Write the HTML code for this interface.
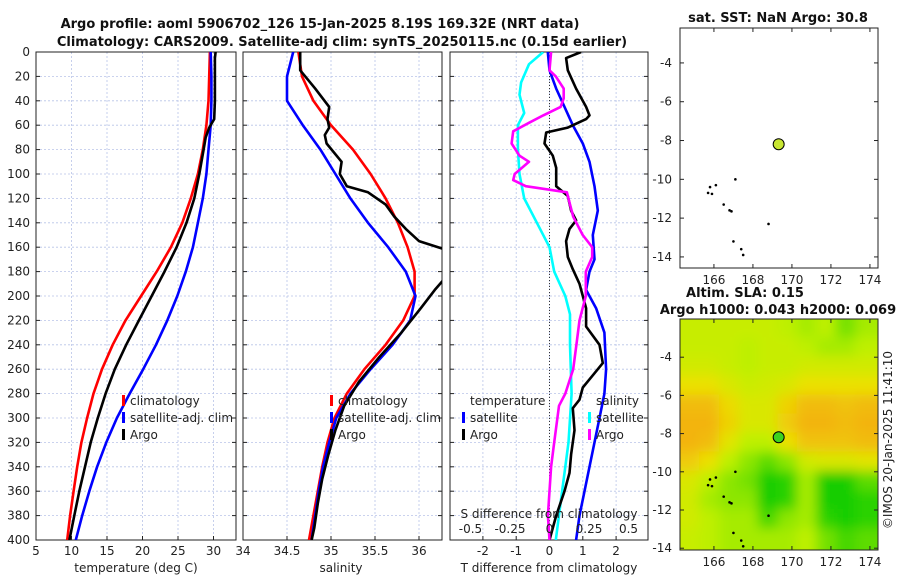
<!DOCTYPE html>
<html><head><meta charset="utf-8">
<style>
html,body{margin:0;padding:0;background:#fff;}
svg{display:block;font-family:"DejaVu Sans","Liberation Sans",sans-serif;}
.t{font-size:12px;fill:#222;}
.ti{font-size:13px;font-weight:bold;fill:#111;}
</style></head>
<body>
<svg id="chart" width="900" height="580" viewBox="0 0 900 580" xmlns="http://www.w3.org/2000/svg">
<defs>
<clipPath id="c1"><rect x="36" y="52" width="200" height="488"/></clipPath>
<clipPath id="c2"><rect x="243" y="52" width="199" height="488"/></clipPath>
<clipPath id="c3"><rect x="450" y="52" width="198" height="488"/></clipPath>
<clipPath id="cm2"><rect x="680" y="319" width="198" height="231"/></clipPath>
<filter id="bl"><feGaussianBlur stdDeviation="6"/></filter>
</defs>
<text class="ti" x="320" y="28" text-anchor="middle">Argo profile: aoml 5906702_126 15-Jan-2025 8.19S 169.32E (NRT data)</text>
<text class="ti" x="342" y="46" text-anchor="middle">Climatology: CARS2009. Satellite-adj clim: synTS_20250115.nc (0.15d earlier)</text>
<text class="ti" x="778" y="22" text-anchor="middle">sat. SST: NaN Argo: 30.8</text>
<text class="ti" x="745" y="297" text-anchor="middle">Altim. SLA: 0.15</text>
<text class="ti" x="778" y="314" text-anchor="middle">Argo h1000: 0.043 h2000: 0.069</text>
<text class="t" transform="translate(892,440) rotate(-90)" text-anchor="middle">©IMOS 20-Jan-2025 11:41:10</text>
<g id="g"></g>
</svg>
<script>
// ---- data ----
const depths = [0,20,40,60,80,100,120,140,160,180,200,220,240,260,280,300,320,340,360,380,400];
const tempClim = [29.5,29.4,29.3,29.0,28.5,27.8,26.8,25.6,24.0,22.0,19.8,17.6,15.8,14.3,13.1,12.2,11.4,10.8,10.3,9.8,9.4];
const tempSat = [29.6,29.7,29.7,29.6,29.3,29.0,28.5,27.8,27.1,26.1,24.9,23.5,21.9,20.1,18.2,16.4,14.9,13.6,12.5,11.5,10.6];
const argoDepths = [0,5,20,40,55,62,70,80,100,120,140,160,180,200,220,240,260,280,300,320,340,360,380,400];
const tempArgo = [30.3,30.2,30.2,30.2,30.1,29.4,28.9,28.6,28.0,27.3,26.2,24.8,23.1,21.3,19.5,17.7,16.1,14.8,13.7,12.7,11.9,11.1,10.4,9.7];
const salClim = [34.63,34.67,34.8,35.0,35.25,35.45,35.62,35.76,35.87,35.95,35.95,35.82,35.62,35.38,35.18,35.04,34.96,34.9,34.85,34.8,34.75];
const salSat = [34.57,34.5,34.5,34.68,34.88,35.05,35.22,35.42,35.65,35.85,35.96,35.9,35.7,35.45,35.22,35.06,34.98,34.91,34.86,34.82,34.78];
const salArgoDepths = [0,15,30,45,55,62,68,75,90,100,110,115,125,135,145,155,162,185,195,210,230,250,270,290,310,330,350,370,390,400];
const salArgo = [34.65,34.65,34.82,34.98,34.96,34.98,34.93,34.95,35.12,35.1,35.18,35.42,35.62,35.72,35.85,36.0,36.3,36.3,36.18,36.02,35.8,35.55,35.32,35.15,35.05,34.97,34.9,34.85,34.81,34.78];
const tDiffSatDepths = [0,15,30,45,60,75,90,110,130,150,170,180,195,210,230,260,280,300,320,340,360,380,400];
const tDiffSat = [-0.05,0.0,0.2,0.45,0.7,1.0,1.2,1.35,1.45,1.3,1.35,1.2,1.1,1.4,1.65,1.7,1.65,1.5,1.35,1.2,1.05,0.9,0.8];
const tDiffArgoDepths = [0,5,15,30,45,52,55,62,66,75,85,95,110,118,130,138,145,155,168,178,190,200,210,225,240,255,265,275,285,292,310,330,345,360,380,400];
const tDiffArgo = [0.95,0.5,0.55,0.8,1.1,1.2,1.1,0.55,-0.1,-0.15,0.1,0.2,0.2,0.55,0.65,0.8,0.6,0.5,0.55,0.7,0.9,1.0,1.1,1.1,1.5,1.6,1.3,1.0,0.9,0.7,0.75,0.65,0.6,0.45,0.2,0.0];
const sDiffSatDepths = [0,10,25,35,50,60,80,100,120,140,160,180,200,215,240,280,320,360,400];
const sDiffSat = [-0.04,-0.13,-0.18,-0.19,-0.16,-0.2,-0.2,-0.19,-0.16,-0.08,0.0,0.03,0.1,0.13,0.13,0.14,0.12,0.08,0.04];
const sDiffArgoDepths = [0,15,20,30,38,45,52,58,65,75,85,90,100,105,110,115,125,135,150,160,168,180,200,220,240,260,280,290,300,320,340,360,380,400];
const sDiffArgo = [0.01,0.0,0.04,0.09,0.09,0.07,-0.04,-0.13,-0.23,-0.24,-0.19,-0.13,-0.22,-0.23,-0.15,0.11,0.13,0.15,0.21,0.27,0.27,0.23,0.23,0.19,0.17,0.15,0.1,0.06,0.05,0.03,0.01,0.0,-0.01,0.0];
const depthTicks = [0,20,40,60,80,100,120,140,160,180,200,220,240,260,280,300,320,340,360,380,400];
const tempTicks = [5,10,15,20,25,30];
const salTicks = [34,34.5,35,35.5,36];
const tDiffTicks = [-2,-1,0,1,2];
const sDiffTicks = [-0.5,-0.25,0,0.25,0.5];
const sDiffLabels = ["-0.5","-0.25","0","0.25","0.5"];
const lonTicks = [166,168,170,172,174];
const latTicks = [-4,-6,-8,-10,-12,-14];
const argoPos = [169.32,-8.19];
const slaLon = [164.3,165.3,166.3,167.3,168.3,169.3,170.3,171.3,172.3,173.3,174.3];
const slaLat = [-2,-3,-4,-5,-6,-7,-8,-9,-10,-11,-12,-13,-14.2];
const slaGrid = [
[.4,.4,.4,.4,.4,.35,.3,.35,.2,.3],
[.4,.4,.4,.35,.4,.4,.35,.3,.3,.35],
[.45,.45,.4,.35,.4,.4,.45,.45,.45,.45],
[.6,.6,.5,.42,.45,.5,.6,.6,.6,.6],
[.85,.85,.65,.5,.5,.7,.85,.85,.8,.85],
[.9,.9,.7,.5,.5,.75,.9,.9,.85,.9],
[.9,.85,.55,.35,.35,.6,.8,.8,.8,.85],
[.75,.6,.35,.25,.15,.25,.45,.5,.5,.55],
[.5,.35,.25,.2,.0,.05,.3,.0,.0,.15],
[.45,.3,.25,.25,.0,.05,.3,0,0,.05],
[.45,.35,.3,.3,.1,.25,.3,.05,.0,.05],
[.4,.35,.3,.3,.3,.3,.35,.2,.1,.15]];
const coast = [[165.7,-10.7],[165.9,-10.75],[166.1,-10.3],[166.5,-11.3],[166.8,-11.6],[167.1,-10.0],[167.0,-13.2],[167.4,-13.6],[167.5,-13.9],[165.8,-10.4],[168.8,-12.3],[166.9,-11.65]];

// ---- axes ----
const Y0=52, Y1=540;
const yD = d => Y0 + d*(Y1-Y0)/400;
const xT = t => 36 + (t-5)*7.1;
const xS = s => 243 + (s-34)*88;
const xTD = v => 549.5 + v*33.3;
const xSD = v => 549.5 + v*158;
const mx1 = lo => 680 + (lo-164.26)*19.5;
const my1 = la => 28 + (-2.2-la)*19.4;
const mx2 = lo => 680 + (lo-164.26)*19.5;
const my2 = la => 319 + (-2.0-la)*19.1;

const NS="http://www.w3.org/2000/svg";
const G=document.getElementById('g');
function mk(tag, at, parent){const e=document.createElementNS(NS,tag);for(const k in at)e.setAttribute(k,at[k]);(parent||G).appendChild(e);return e;}
function txt(x,y,s,anchor,cls){const e=mk('text',{x:x,y:y,'text-anchor':anchor||'middle','class':cls||'t'});e.textContent=s;return e;}

function panel(x0,x1,name,xticks,xf,xlabels){
  for(const d of depthTicks){const l=mk('line',{x1:x0,x2:x1,y1:yD(d),y2:yD(d),stroke:'#b8c4e8','stroke-width':0.8,'stroke-dasharray':'2,2'});
    
    
    const tk=mk('line',{x1:x0,x2:x0+4,y1:yD(d),y2:yD(d),stroke:'#222'});
    
    
    const tk2=mk('line',{x1:x1,x2:x1-4,y1:yD(d),y2:yD(d),stroke:'#222'});
    
    }
  xticks.forEach((v,i)=>{const x=xf(v);
    const l=mk('line',{x1:x,x2:x,y1:Y0,y2:Y1,stroke:'#b8c4e8','stroke-width':0.8,'stroke-dasharray':'2,2'});
    
    
    const tk=mk('line',{x1:x,x2:x,y1:Y1,y2:Y1-4,stroke:'#222'});
    
    
    if(xlabels){const t=txt(x,555,xlabels[i]);
      
      }
  });
  const r=mk('rect',{x:x0,y:Y0,width:x1-x0,height:Y1-Y0,fill:'none',stroke:'#222','stroke-width':1});
  
  
}
function line(ds,vs,xf,color,clip,name,w){
  const pts=ds.map((d,i)=>xf(vs[i]).toFixed(1)+','+yD(d).toFixed(1)).join(' ');
  const p=mk('polyline',{points:pts,fill:'none',stroke:color,'stroke-width':w||2.6,'clip-path':'url(#'+clip+')','stroke-linejoin':'round'});
  
  
}

// panel 1
panel(36,236,'temp-panel',tempTicks,xT,tempTicks.map(String));
depthTicks.forEach(d=>{const t=txt(30,yD(d)+4,String(d),'end');
  
  });
{const t=txt(243,555,'34');}
line(depths,tempClim,xT,'#f00','c1','temp-climatology-line');
line(depths,tempSat,xT,'#00f','c1','temp-satellite-line');
line(argoDepths,tempArgo,xT,'#000','c1','temp-argo-line');
{const t=txt(136,572,'temperature (deg C)');}

// panel 2
panel(243,442,'sal-panel',salTicks,xS,null);
[34.5,35,35.5,36].forEach(v=>{const t=txt(xS(v),555,String(v));
  
  });
line(depths,salClim,xS,'#f00','c2','sal-climatology-line');
line(depths,salSat,xS,'#00f','c2','sal-satellite-line');
line(salArgoDepths,salArgo,xS,'#000','c2','sal-argo-line');
{const t=txt(341,572,'salinity');}

// panel 3
panel(450,648,'diff-panel',tDiffTicks,xTD,null);
tDiffTicks.forEach(v=>{const t=txt(xTD(v),555,String(v));
  
  });
{const z=mk('line',{x1:549.5,x2:549.5,y1:Y0,y2:Y1,stroke:'#333','stroke-width':1,'stroke-dasharray':'1,2'});}
line(sDiffSatDepths,sDiffSat,xSD,'#0ff','c3','sdiff-satellite-line');
line(tDiffSatDepths,tDiffSat,xTD,'#00f','c3','tdiff-satellite-line');
line(tDiffArgoDepths,tDiffArgo,xTD,'#000','c3','tdiff-argo-line');
line(sDiffArgoDepths,sDiffArgo,xSD,'#f0f','c3','sdiff-argo-line');
{const t=txt(549,518,'S difference from climatology');}
sDiffTicks.forEach((v,i)=>{const t=txt(xSD(v),533,sDiffLabels[i]);
  
  });
{const t=txt(549,572,'T difference from climatology');}

// legends
function legend(x,y,color,label,name){
  const b=mk('rect',{x:x,y:y-10,width:3,height:11,fill:color});
  
  
  const t=txt(x+8,y,label,'start');
  
  
}
legend(122,405,'#f00','climatology','legend-temp-climatology');
legend(122,422,'#00f','satellite-adj. clim','legend-temp-satellite');
legend(122,439,'#000','Argo','legend-temp-argo');
legend(330,405,'#f00','climatology','legend-sal-climatology');
legend(330,422,'#00f','satellite-adj. clim','legend-sal-satellite');
legend(330,439,'#000','Argo','legend-sal-argo');
{const t=txt(470,405,'temperature','start');}
legend(462,422,'#00f','satellite','legend-tdiff-satellite');
legend(462,439,'#000','Argo','legend-tdiff-argo');
{const t=txt(596,405,'salinity','start');}
legend(588,422,'#0ff','satellite','legend-sdiff-satellite');
legend(588,439,'#f0f','Argo','legend-sdiff-argo');

// maps
function mapAxes(x0,y0,x1,y1,mx,my,name){
  lonTicks.forEach(v=>{const x=mx(v);
    mk('line',{x1:x,x2:x,y1:y1,y2:y1-4,stroke:'#222'});
    mk('line',{x1:x,x2:x,y1:y0,y2:y0+4,stroke:'#222'});
    const t=txt(x,y1+16,String(v));
    
    });
  latTicks.forEach(v=>{const y=my(v);
    mk('line',{x1:x0,x2:x0+4,y1:y,y2:y,stroke:'#222'});
    mk('line',{x1:x1,x2:x1-4,y1:y,y2:y,stroke:'#222'});
    const t=txt(x0-8,y+4,String(v),'end');
    
    });
  const r=mk('rect',{x:x0,y:y0,width:x1-x0,height:y1-y0,fill:'none',stroke:'#222'});
  
  
}
function cmap(v){
  const stops=[[0,[20,205,0]],[0.35,[190,240,0]],[0.6,[235,225,0]],[1,[245,165,20]]];
  for(let i=1;i<stops.length;i++){if(v<=stops[i][0]){const a=stops[i-1],b=stops[i],f=(v-a[0])/(b[0]-a[0]);
    return 'rgb('+a[1].map((c,k)=>Math.round(c+(b[1][k]-c)*f)).join(',')+')';}}
  return 'rgb(245,165,20)';
}
{const bg=mk('rect',{x:680,y:319,width:198,height:231,fill:cmap(0.4),'clip-path':'url(#cm2)'});
 
 }
const hg=mk('g',{'clip-path':'url(#cm2)'});
const hb=mk('g',{filter:'url(#bl)'},hg);
slaGrid.forEach((row,r)=>row.forEach((v,c)=>{
  let x0=mx2(slaLon[c]),x1=mx2(slaLon[c+1]),y0=my2(slaLat[r]),y1=my2(slaLat[r+1]);
  if(c===0)x0-=15; if(c===row.length-1)x1+=15; if(r===0)y0-=15; if(r===slaGrid.length-1)y1+=15;
  const cell=mk('rect',{x:x0-1,y:y0-1,width:x1-x0+2,height:y1-y0+2,fill:cmap(v)},hb);
  
  
}));
coast.forEach(p=>{
  const a=mk('circle',{cx:mx1(p[0]),cy:my1(p[1]),r:1.3,fill:'#000'});
  
  
  const b=mk('circle',{cx:mx2(p[0]),cy:my2(p[1]),r:1.3,fill:'#000'});
  
  
});
mapAxes(680,28,878,268,mx1,my1,'sst-map');
mapAxes(680,319,878,550,mx2,my2,'sla-map');
{const d=mk('circle',{cx:mx1(argoPos[0]),cy:my1(argoPos[1]),r:5.5,fill:'#c8e632',stroke:'#000','stroke-width':1});
 
 
 const e=mk('circle',{cx:mx2(argoPos[0]),cy:my2(argoPos[1]),r:5.5,fill:'#3cd21e',stroke:'#000','stroke-width':1});
 
 }
</script>
</body></html>
